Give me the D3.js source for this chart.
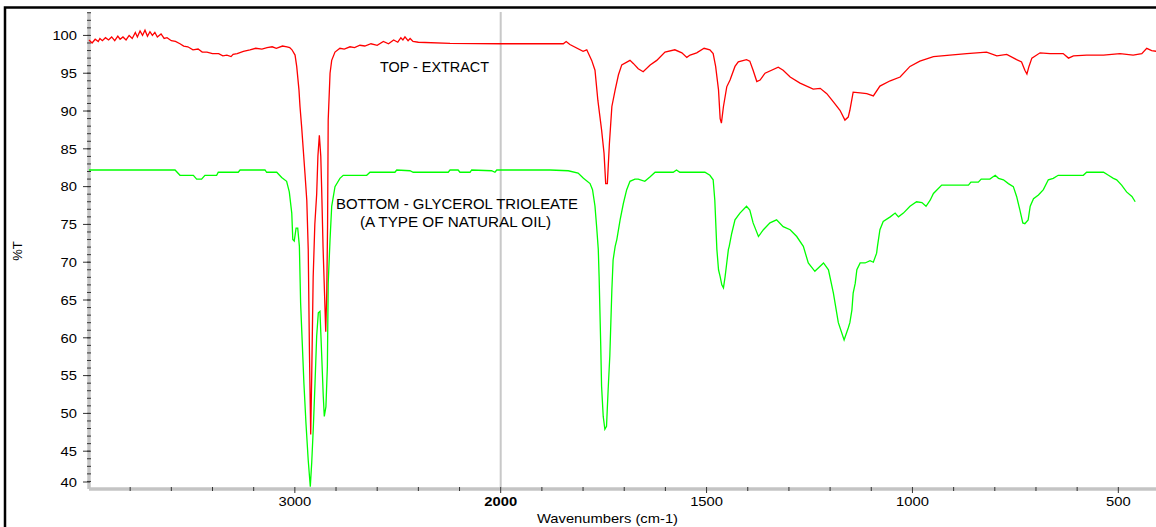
<!DOCTYPE html>
<html>
<head>
<meta charset="utf-8">
<script src="https://cdn.jsdelivr.net/npm/d3@7"></script>
<style>
  body { margin: 0; background: #fff; }
  text { font-family: "Liberation Sans", Arial, sans-serif; fill: #000; }
</style>
</head>
<body>
<div id="chart"></div>
<script>
// red trace: [wavenumber, %T]
const topExtract = [
  [4000,99.4],[3985,99.0],[3970,99.5],[3955,99.2],[3947,99.6],[3935,99.3],[3920,99.7],[3905,99.4],
  [3890,99.8],[3875,99.3],[3860,99.9],[3849,99.5],[3835,99.8],[3820,99.4],[3805,100.0],[3790,99.6],
  [3775,100.4],[3765,99.8],[3752,100.6],[3740,100.0],[3728,100.7],[3716,99.9],[3704,100.5],[3692,100.0],
  [3680,100.4],[3668,99.8],[3650,100.2],[3635,99.6],[3621,99.7],[3600,99.3],[3580,99.2],[3558,98.9],
  [3540,98.6],[3520,98.5],[3495,98.1],[3470,98.2],[3450,97.8],[3427,97.8],[3400,97.6],[3370,97.6],
  [3350,97.3],[3330,97.4],[3310,97.2],[3300,97.5],[3280,97.6],[3250,97.9],[3218,98.1],[3190,98.3],
  [3160,98.2],[3135,98.4],[3110,98.5],[3090,98.3],[3060,98.6],[3038,98.5],[3025,98.4],[3014,98.1],
  [2999,97.4],[2991,95.9],[2980,92.8],[2975,90.6],[2967,87.9],[2951,81.8],[2942,78.2],[2935,71.7],
  [2929,58.0],[2923,47.2],[2918,55.0],[2911,68.0],[2903,75.0],[2894,79.0],[2888,84.0],[2881,86.8],
  [2874,84.0],[2870,80.0],[2863,72.0],[2856,66.0],[2850,60.8],[2845,66.0],[2841,75.0],[2838,88.8],
  [2829,95.0],[2821,96.7],[2805,97.8],[2781,98.3],[2760,98.2],[2732,98.5],[2710,98.4],[2684,98.7],
  [2660,98.6],[2630,98.9],[2600,98.7],[2570,99.2],[2545,98.9],[2520,99.4],[2500,99.1],[2485,99.7],
  [2475,99.4],[2465,99.8],[2450,99.3],[2440,99.6],[2426,99.2],[2400,99.1],[2246,98.95],[2000,98.9],
  [1848,98.9],[1841,99.2],[1832,98.8],[1800,97.9],[1791,98.1],[1779,96.7],[1771,95.4],[1764,91.4],
  [1755,87.5],[1749,84.4],[1745,80.4],[1741,80.4],[1736,85.7],[1730,90.6],[1722,92.8],[1714,94.8],
  [1706,96.1],[1686,96.7],[1678,96.3],[1666,95.6],[1654,95.2],[1637,96.1],[1621,96.7],[1601,97.8],
  [1577,98.1],[1560,97.7],[1548,97.1],[1540,97.4],[1524,97.7],[1506,98.3],[1492,98.1],[1484,97.6],
  [1478,95.9],[1471,92.8],[1467,89.0],[1464,88.4],[1459,90.6],[1451,93.2],[1443,94.1],[1431,95.9],
  [1423,96.5],[1403,96.8],[1395,96.6],[1387,95.4],[1378,93.9],[1370,94.1],[1358,95.0],[1326,95.8],
  [1314,95.4],[1297,94.5],[1273,93.7],[1241,92.9],[1224,93.0],[1208,92.3],[1192,91.2],[1176,90.1],
  [1164,88.8],[1156,89.2],[1152,90.1],[1144,92.5],[1127,92.4],[1111,92.3],[1095,92.0],[1079,93.3],
  [1054,94.0],[1030,94.5],[1006,95.9],[982,96.6],[949,97.2],[909,97.4],[868,97.6],[820,97.8],
  [795,97.3],[771,97.5],[747,96.8],[735,96.5],[727,95.4],[722,94.9],[717,95.9],[710,97.0],
  [690,97.7],[666,97.6],[634,97.6],[621,97.0],[609,97.3],[577,97.4],[536,97.4],[496,97.6],
  [464,97.4],[443,97.6],[431,98.3],[419,98.0],[408,97.9],[400,98.0]
];

// green trace: [wavenumber, %T]
const bottomTrioleate = [
  [4000,82.2],[3582,82.2],[3558,81.5],[3493,81.5],[3477,81.0],[3453,81.0],[3437,81.5],[3380,81.5],
  [3372,81.9],[3275,81.9],[3266,82.2],[3145,82.2],[3137,81.9],[3088,81.9],[3064,81.2],[3040,80.7],
  [3027,79.3],[3015,76.5],[3010,73.0],[3003,72.8],[2994,74.5],[2986,74.5],[2978,72.1],[2972,64.6],
  [2964,59.3],[2956,54.0],[2946,48.7],[2935,43.8],[2925,40.3],[2918,43.5],[2910,48.3],[2902,54.0],
  [2894,60.2],[2886,63.3],[2878,63.5],[2870,58.0],[2862,52.3],[2857,49.6],[2849,50.9],[2842,56.2],
  [2838,67.2],[2829,73.0],[2821,77.4],[2805,80.0],[2781,81.1],[2765,81.5],[2651,81.5],[2635,81.9],
  [2514,81.9],[2505,82.2],[2441,82.1],[2425,81.9],[2255,81.9],[2246,82.2],[2207,82.2],[2198,81.9],
  [2149,81.9],[2141,82.2],[2044,82.1],[2028,81.9],[2019,82.2],[1880,82.2],[1836,82.1],[1812,81.8],
  [1799,81.1],[1783,80.4],[1777,79.6],[1771,77.4],[1767,74.7],[1763,71.7],[1761,68.1],[1757,58.9],
  [1755,53.6],[1751,49.6],[1747,47.9],[1743,48.3],[1739,53.2],[1735,57.6],[1730,66.4],[1727,70.3],
  [1722,72.1],[1718,73.0],[1710,75.6],[1702,77.8],[1694,79.6],[1686,80.7],[1674,81.0],[1666,81.0],
  [1650,80.7],[1637,81.3],[1625,81.9],[1581,81.9],[1573,82.2],[1565,81.9],[1504,81.9],[1492,81.5],
  [1484,80.9],[1480,78.2],[1475,71.7],[1471,69.0],[1467,68.1],[1463,67.0],[1459,66.6],[1455,68.1],
  [1451,69.9],[1447,71.7],[1445,72.1],[1439,73.8],[1431,75.6],[1419,76.5],[1403,77.4],[1395,76.9],
  [1387,75.2],[1374,73.4],[1362,74.3],[1346,75.2],[1330,75.6],[1314,74.7],[1297,74.3],[1281,73.4],
  [1265,72.1],[1253,69.9],[1237,68.8],[1216,69.9],[1204,69.0],[1192,65.9],[1180,62.0],[1166,59.7],
  [1156,61.3],[1152,62.0],[1147,63.7],[1144,65.9],[1139,67.2],[1135,69.0],[1127,69.9],[1115,69.9],
  [1103,70.2],[1095,70.0],[1087,71.2],[1085,72.1],[1079,74.3],[1071,75.4],[1054,76.0],[1042,76.5],
  [1034,76.0],[1022,76.5],[1006,77.4],[990,78.0],[977,77.9],[967,77.4],[957,78.2],[949,79.1],
  [929,80.2],[864,80.2],[858,80.6],[840,80.6],[833,81.0],[812,81.0],[799,81.5],[791,81.1],
  [779,80.9],[767,80.4],[755,80.0],[747,78.7],[739,76.9],[732,75.2],[727,75.1],[719,75.6],
  [714,77.4],[706,78.4],[694,78.9],[682,79.6],[670,80.9],[658,81.1],[646,81.5],[585,81.5],
  [577,81.9],[536,81.9],[524,81.5],[512,81.1],[504,80.9],[492,80.2],[480,79.3],[467,78.7],[459,78.0]
];

const yTickValues = [40, 45, 50, 55, 60, 65, 70, 75, 80, 85, 90, 95, 100];
const xTickLabels = [3000, 2000, 1500, 1000, 500];
const topNote = "TOP - EXTRACT";
const bottomNote = ["BOTTOM - GLYCEROL TRIOLEATE", "(A TYPE OF NATURAL OIL)"];

const width = 1156, height = 527;
const svg = d3.select('#chart').append('svg')
  .attr('width', width)
  .attr('height', height);

// expanded scale below 2000 cm-1, as on the instrument printout
const x = d3.scaleLinear().domain([4000, 2000, 400]).range([89, 500.7, 1159.5]);
const y = d3.scaleLinear().domain([40, 103.1]).range([489, 12]);

// outer frame (runs off the right and bottom of the picture)
svg.append('rect')
  .attr('x', 5).attr('y', 7.5)
  .attr('width', 1300).attr('height', 700)
  .attr('fill', 'none')
  .attr('stroke', '#000')
  .attr('stroke-width', 2.5);

// split line at 2000
svg.append('line')
  .attr('x1', x(2000)).attr('x2', x(2000))
  .attr('y1', y.range()[1]).attr('y2', y.range()[0])
  .attr('stroke', '#c8c8c8')
  .attr('stroke-width', 2);

// y axis
const yAxis = svg.append('g');
yAxis.append('line')
  .attr('x1', 89).attr('x2', 89)
  .attr('y1', y.range()[1]).attr('y2', y.range()[0])
  .attr('stroke', '#c4c4c4').attr('stroke-width', 3.5);
yAxis.selectAll('.minor')
  .data(d3.range(41, 104))
  .enter().append('line')
    .attr('x1', 87).attr('x2', 91)
    .attr('y1', d => y(d)).attr('y2', d => y(d))
    .attr('stroke', '#333').attr('stroke-width', 1);
// the 40 label sits a little above the x axis
const yLabelPos = d => d === 40 ? y(d) - 7 : y(d);
yAxis.selectAll('.major')
  .data(yTickValues)
  .enter().append('line')
    .attr('x1', 83).attr('x2', 90)
    .attr('y1', yLabelPos).attr('y2', yLabelPos)
    .attr('stroke', '#333').attr('stroke-width', 1);
yAxis.selectAll('text')
  .data(yTickValues)
  .enter().append('text')
    .attr('x', 77)
    .attr('y', d => yLabelPos(d) + 4.8)
    .attr('text-anchor', 'end')
    .attr('font-size', 13.5)
    .attr('textLength', d => String(d).length * 8.2)
    .attr('lengthAdjust', 'spacingAndGlyphs')
    .text(d => d);

// x axis
const xAxis = svg.append('g');
xAxis.append('line')
  .attr('x1', 89).attr('x2', 1160)
  .attr('y1', 489).attr('y2', 489)
  .attr('stroke', '#c4c4c4').attr('stroke-width', 3.5);
const xMinor = d3.range(3800, 2000, -200).concat(d3.range(2000, 399, -100));
xAxis.selectAll('.minor')
  .data(xMinor)
  .enter().append('line')
    .attr('x1', d => x(d)).attr('x2', d => x(d))
    .attr('y1', 487)
    .attr('y2', d => xTickLabels.includes(d) ? 493 : 491)
    .attr('stroke', '#333').attr('stroke-width', 1);
xAxis.selectAll('text')
  .data(xTickLabels)
  .enter().append('text')
    .attr('x', d => x(d))
    .attr('y', 506)
    .attr('text-anchor', 'middle')
    .attr('font-size', 13.5)
    .attr('font-weight', d => d === 2000 ? 'bold' : 'normal')
    .attr('textLength', d => String(d).length * 8.2)
    .attr('lengthAdjust', 'spacingAndGlyphs')
    .text(d => d);

svg.append('text')
  .attr('x', 607.5).attr('y', 523)
  .attr('text-anchor', 'middle')
  .attr('font-size', 13.5)
  .attr('textLength', 141)
  .attr('lengthAdjust', 'spacingAndGlyphs')
  .text('Wavenumbers (cm-1)');

svg.append('text')
  .attr('transform', 'translate(22,251) rotate(-90)')
  .attr('text-anchor', 'middle')
  .attr('font-size', 13)
  .text('%T');

// spectra
const line = d3.line()
  .x(d => x(d[0]))
  .y(d => y(d[1]));

svg.append('path')
  .datum(bottomTrioleate)
  .attr('d', line)
  .attr('fill', 'none')
  .attr('stroke', '#00ff00')
  .attr('stroke-width', 1.3);

svg.append('path')
  .datum(topExtract)
  .attr('d', line)
  .attr('fill', 'none')
  .attr('stroke', '#ff0000')
  .attr('stroke-width', 1.3);

// annotations
svg.append('text')
  .attr('x', 380).attr('y', 72)
  .attr('font-size', 14)
  .attr('textLength', 109)
  .attr('lengthAdjust', 'spacingAndGlyphs')
  .text(topNote);

svg.selectAll('.note')
  .data(bottomNote)
  .enter().append('text')
    .attr('x', (d, i) => i === 0 ? 336 : 360)
    .attr('y', (d, i) => 209 + i * 18)
    .attr('font-size', 14)
    .attr('textLength', (d, i) => i === 0 ? 242 : 191)
    .attr('lengthAdjust', 'spacingAndGlyphs')
    .text(d => d);
</script>
</body>
</html>
